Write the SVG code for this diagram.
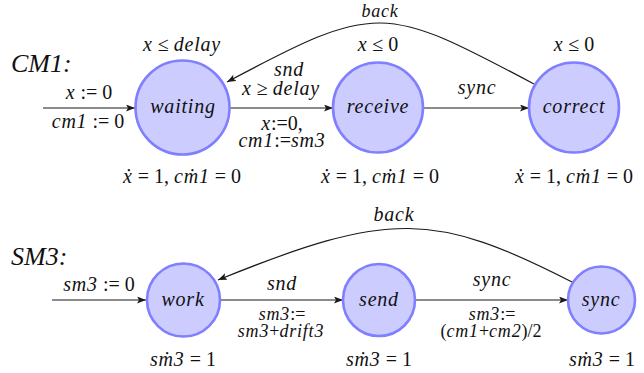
<svg xmlns="http://www.w3.org/2000/svg" width="644" height="373" viewBox="0 0 644 373" font-family="Liberation Serif, Times New Roman, serif">
<style>
.node{fill:#ccccff;stroke:#7f7fff;stroke-width:2.6}
.edge{fill:none;stroke:#1a1a1a;stroke-width:1.2}
text{font-size:20px;fill:#111;text-anchor:middle}
.m{font-style:italic;letter-spacing:0.8px}
.u{font-style:normal;letter-spacing:0}
.s{font-size:18px}
.title{font-size:26px;font-style:italic;text-anchor:start}
</style>
<defs>
<marker id="arr" markerUnits="userSpaceOnUse" markerWidth="10" markerHeight="8" refX="9" refY="3.5" orient="auto">
<path d="M0,0 L9,3.5 L0,7 L2,3.5 z" fill="#1a1a1a"/>
</marker>
</defs>

<text class="title" x="11" y="72">CM1:</text>
<text class="title" x="11" y="265">SM3:</text>

<g id="edges">
<path class="edge" d="M43,108 L135,108" marker-end="url(#arr)"/>
<path class="edge" d="M230,108 L333,108" marker-end="url(#arr)"/>
<path class="edge" d="M423,108 L529,108" marker-end="url(#arr)"/>
<path class="edge" d="M534,84 C384,4 377,2 227,82" marker-end="url(#arr)"/>
<path class="edge" d="M52,300 L146,300" marker-end="url(#arr)"/>
<path class="edge" d="M220,300 L343,300" marker-end="url(#arr)"/>
<path class="edge" d="M415,300 L568,300" marker-end="url(#arr)"/>
<path class="edge" d="M572,282 C435,212 390,210 218,280" marker-end="url(#arr)"/>
</g>

<g id="edge-labels">
<text class="m" x="89" y="99">x<tspan class="u"> := 0</tspan></text>
<text class="m" x="88" y="128">cm1<tspan class="u"> := 0</tspan></text>
<text class="m" x="289" y="76">snd</text>
<text class="m" x="281" y="95">x<tspan class="u"> ≥ </tspan>delay</text>
<text class="m" x="282" y="130">x<tspan class="u">:=0,</tspan></text>
<text class="m" x="282" y="147">cm1<tspan class="u">:=</tspan>sm3</text>
<text class="m" x="477" y="94">sync</text>
<text class="m s" x="380" y="17">back</text>

<text class="m" x="99" y="291">sm3<tspan class="u"> := 0</tspan></text>
<text class="m" x="282" y="290">snd</text>
<text class="m s" x="282" y="320">sm3<tspan class="u">:=</tspan></text>
<text class="m s" x="281" y="337">sm3<tspan class="u">+</tspan>drift3</text>
<text class="m" x="492" y="286">sync</text>
<text class="m s" x="492" y="320">sm3<tspan class="u">:=</tspan></text>
<text class="m s" x="491" y="337"><tspan class="u">(</tspan>cm1<tspan class="u">+</tspan>cm2<tspan class="u">)/2</tspan></text>
<text class="m" x="394" y="221">back</text>
</g>

<g id="waiting">
<circle class="node" cx="182.5" cy="107.5" r="47"/>
<text class="m" x="183" y="113">waiting</text>
<text class="m" x="182" y="51">x<tspan class="u"> ≤ </tspan>delay</text>
<text class="m" x="182" y="183">ẋ<tspan class="u"> = 1, </tspan>cṁ1<tspan class="u"> = 0</tspan></text>
</g>
<g id="receive">
<circle class="node" cx="378" cy="107.5" r="45"/>
<text class="m" x="378" y="113">receive</text>
<text class="m" x="378" y="51">x<tspan class="u"> ≤ 0</tspan></text>
<text class="m" x="380" y="183">ẋ<tspan class="u"> = 1, </tspan>cṁ1<tspan class="u"> = 0</tspan></text>
</g>
<g id="correct">
<circle class="node" cx="574" cy="107.5" r="45"/>
<text class="m" x="574" y="113">correct</text>
<text class="m" x="574" y="51">x<tspan class="u"> ≤ 0</tspan></text>
<text class="m" x="574" y="183">ẋ<tspan class="u"> = 1, </tspan>cṁ1<tspan class="u"> = 0</tspan></text>
</g>

<g id="work">
<circle class="node" cx="183.5" cy="300" r="36.5"/>
<text class="m" x="183" y="306">work</text>
<text class="m" x="183" y="366">sṁ3<tspan class="u"> = 1</tspan></text>
</g>
<g id="send">
<circle class="node" cx="379" cy="300" r="36"/>
<text class="m" x="379" y="306">send</text>
<text class="m" x="379" y="366">sṁ3<tspan class="u"> = 1</tspan></text>
</g>
<g id="sync">
<circle class="node" cx="601.5" cy="300" r="33.5"/>
<text class="m" x="601" y="306">sync</text>
<text class="m" x="602" y="366">sṁ3<tspan class="u"> = 1</tspan></text>
</g>
</svg>
